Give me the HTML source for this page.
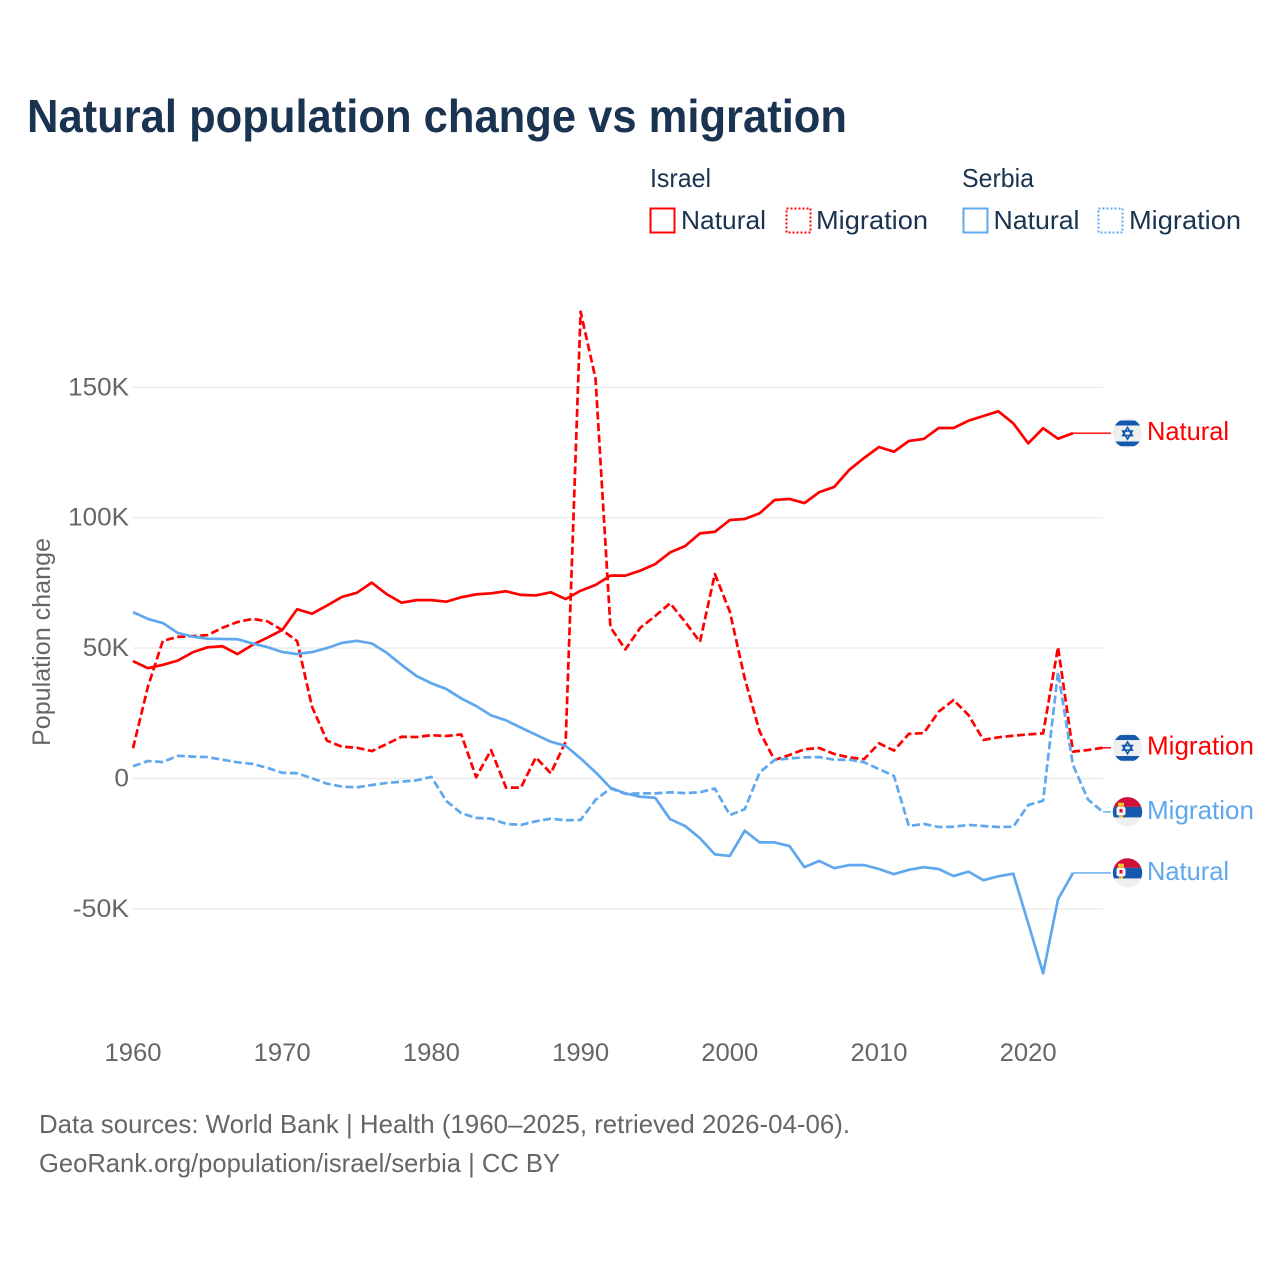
<!DOCTYPE html>
<html lang="en">
<head>
<meta charset="utf-8">
<title>Natural population change vs migration</title>
<style>
html,body{margin:0;padding:0;background:#fff;width:1280px;height:1280px;overflow:hidden}
svg{display:block}
text{font-family:"Liberation Sans",sans-serif}
</style>
</head>
<body>
<svg id="chart" xmlns="http://www.w3.org/2000/svg" width="1280" height="1280" viewBox="0 0 1280 1280">
  <defs>
    <clipPath id="flag-clip"><circle cx="0" cy="0" r="14.7"/></clipPath>
    <g id="flag-israel" clip-path="url(#flag-clip)">
      <rect x="-15" y="-15" width="30" height="30" fill="#efefef"/>
      <rect x="-13" y="-12.7" width="26" height="5" fill="#1558b0"/>
      <rect x="-13" y="8.3" width="26" height="4.7" fill="#1558b0"/>
      <polygon points="0,-5.8 4.8,2.4 -4.8,2.4" fill="none" stroke="#1558b0" stroke-width="1.6"/>
      <polygon points="0,6 4.8,-2.2 -4.8,-2.2" fill="none" stroke="#1558b0" stroke-width="1.6"/>
    </g>
    <g id="flag-serbia" clip-path="url(#flag-clip)">
      <rect x="-15" y="-15" width="30" height="30" fill="#efefef"/>
      <rect x="-15" y="-15" width="30" height="10" fill="#d20f3c"/>
      <rect x="-15" y="-5" width="30" height="10.5" fill="#1558b0"/>
      <rect x="-9.5" y="-9.2" width="6" height="4" fill="#f2c230"/>
      <rect x="-11" y="-5" width="9" height="8.5" rx="2" fill="#f6f6f6"/>
      <rect x="-8" y="-3" width="3" height="3.6" fill="#d20f3c"/>
      <rect x="-8.5" y="3.4" width="4" height="2.4" fill="#f2c230"/>
    </g>
  </defs>

  <text x="27" y="132" font-size="46" font-weight="700" fill="#1a3350" textLength="820" lengthAdjust="spacingAndGlyphs">Natural population change vs migration</text>

  <g>
    <text x="650" y="187" font-size="26" fill="#1a3350" textLength="61" lengthAdjust="spacingAndGlyphs">Israel</text>
    <text x="962" y="187" font-size="26" fill="#1a3350" textLength="72" lengthAdjust="spacingAndGlyphs">Serbia</text>

    <rect x="650.5" y="208.5" width="24" height="24" fill="none" stroke="#ff0000" stroke-width="2"/>
    <text x="681" y="229" font-size="26" fill="#1a3350" textLength="85" lengthAdjust="spacingAndGlyphs">Natural</text>
    <rect x="786.5" y="208.5" width="24" height="24" fill="none" stroke="#ff0000" stroke-width="2" stroke-dasharray="2 2"/>
    <text x="816" y="229" font-size="26" fill="#1a3350" textLength="112" lengthAdjust="spacingAndGlyphs">Migration</text>

    <rect x="963.5" y="208.5" width="24" height="24" fill="none" stroke="#5fa8ee" stroke-width="2"/>
    <text x="993.5" y="229" font-size="26" fill="#1a3350" textLength="86" lengthAdjust="spacingAndGlyphs">Natural</text>
    <rect x="1098.5" y="208.5" width="24" height="24" fill="none" stroke="#5fa8ee" stroke-width="2" stroke-dasharray="2 2"/>
    <text x="1129" y="229" font-size="26" fill="#1a3350" textLength="112" lengthAdjust="spacingAndGlyphs">Migration</text>
  </g>

  <text transform="translate(50,746) rotate(-90)" font-size="25" fill="#666666" textLength="208" lengthAdjust="spacingAndGlyphs">Population change</text>

  <g id="grid"></g>
  <g id="y-ticks"></g>
  <g id="x-ticks"></g>
  <g id="series"></g>
  <g id="end-labels"></g>

  <text x="39" y="1133" font-size="26" fill="#666666" textLength="811" lengthAdjust="spacingAndGlyphs">Data sources: World Bank | Health (1960–2025, retrieved 2026-04-06).</text>
  <text x="39" y="1172" font-size="26" fill="#666666" textLength="521" lengthAdjust="spacingAndGlyphs">GeoRank.org/population/israel/serbia | CC BY</text>
</svg>

<script>
const years = [1960,1961,1962,1963,1964,1965,1966,1967,1968,1969,1970,1971,1972,1973,1974,1975,1976,1977,1978,1979,1980,1981,1982,1983,1984,1985,1986,1987,1988,1989,1990,1991,1992,1993,1994,1995,1996,1997,1998,1999,2000,2001,2002,2003,2004,2005,2006,2007,2008,2009,2010,2011,2012,2013,2014,2015,2016,2017,2018,2019,2020,2021,2022,2023,2024,2025];

// Values in thousands of people
const israelNatural = [45.0,42.3,43.6,45.2,48.4,50.3,50.7,47.7,51.2,54.0,56.9,64.9,63.2,66.3,69.6,71.2,75.1,70.7,67.4,68.4,68.4,67.8,69.5,70.6,71.0,71.8,70.4,70.2,71.4,68.8,72.0,74.2,77.8,77.8,79.7,82.2,86.7,89.1,94.0,94.6,99.1,99.5,101.7,106.8,107.2,105.6,109.8,111.8,118.3,122.9,127.1,125.3,129.4,130.2,134.4,134.4,137.2,139.0,140.8,136.2,128.5,134.3,130.3,132.4];
const israelMigration = [11.6,35.2,52.8,54.3,54.6,55.0,57.8,60.0,61.2,60.3,56.9,52.7,27.5,14.5,12.2,11.8,10.5,13.2,16.0,15.9,16.6,16.3,16.9,0.5,10.9,-3.5,-3.5,8.1,2.0,14.1,179.0,153.4,58.0,49.5,57.8,62.3,67.2,60.1,52.4,78.4,64.0,38.4,18.0,7.1,9.0,11.2,11.7,9.4,8.1,7.4,13.5,10.7,17.1,17.4,25.6,30.1,24.3,14.8,15.8,16.4,16.9,17.3,50.4,10.3,10.9,11.8];
const serbiaNatural = [63.8,61.2,59.6,55.8,54.4,53.6,53.5,53.4,51.8,50.4,48.5,47.7,48.5,50.0,52.0,52.8,51.8,48.2,43.6,39.3,36.5,34.3,30.7,27.8,24.2,22.3,19.5,16.8,14.1,12.5,7.7,2.4,-3.5,-5.7,-7.0,-7.4,-15.6,-18.2,-22.9,-29.1,-29.7,-20.0,-24.5,-24.5,-25.9,-34.0,-31.6,-34.4,-33.2,-33.2,-34.7,-36.7,-35.0,-34.0,-34.7,-37.4,-35.7,-39.0,-37.5,-36.5,-55.5,-74.7,-46.3,-36.2];
const serbiaMigration = [4.7,6.7,6.3,8.7,8.4,8.2,7.2,6.2,5.6,4.1,2.2,2.0,0.1,-2.0,-3.1,-3.4,-2.5,-1.7,-1.2,-0.7,0.6,-8.6,-13.3,-15.1,-15.4,-17.4,-17.8,-16.4,-15.4,-16.0,-15.9,-8.2,-3.8,-5.9,-5.7,-5.7,-5.3,-5.6,-5.3,-3.8,-14.0,-11.8,2.3,7.1,7.7,8.1,8.2,7.2,7.2,6.2,3.6,1.0,-18.2,-17.4,-18.6,-18.5,-17.8,-18.2,-18.6,-18.5,-10.2,-8.5,40.8,5.2,-8.0,-12.8];

const yTickValues = [-50,0,50,100,150];
const yTickLabels = ['-50K','0','50K','100K','150K'];
const xTickValues = [1960,1970,1980,1990,2000,2010,2020];
const xTickLabels = ['1960','1970','1980','1990','2000','2010','2020'];

const NS = 'http://www.w3.org/2000/svg';
const RED = '#ff0000';
const BLUE = '#5fa8ee';

function xScale(year){ return 133 + (year - 1960) * 14.92; }
function yScale(v){ return 778.5 - v * 2.608; }
function labelWidth(s){
  let w = 0;
  for (const c of s) w += c === 'K' ? 17 : c === '-' ? 10 : 14.6;
  return w;
}
function make(tag, attrs, parent){
  const el = document.createElementNS(NS, tag);
  for (const k in attrs) el.setAttribute(k, attrs[k]);
  parent.appendChild(el);
  return el;
}

const grid = document.getElementById('grid');
const yTicks = document.getElementById('y-ticks');
yTickValues.forEach(function(v, i){
  const line = make('line', {x1:133, x2:1103, y1:yScale(v), y2:yScale(v), stroke:'#ececec', 'stroke-width':1.4}, grid);
  
  
  const label = yTickLabels[i];
  const t = make('text', {x:129, y:yScale(v) + 8, 'font-size':25, fill:'#666666', 'text-anchor':'end', textLength:labelWidth(label), lengthAdjust:'spacingAndGlyphs'}, yTicks);
  t.textContent = label;
  
  
});

const xTicks = document.getElementById('x-ticks');
xTickValues.forEach(function(yr, i){
  const t = make('text', {x:xScale(yr), y:1061, 'font-size':25, fill:'#666666', 'text-anchor':'middle', textLength:57, lengthAdjust:'spacingAndGlyphs'}, xTicks);
  t.textContent = xTickLabels[i];
  
  
});

const seriesGroup = document.getElementById('series');
const endLabels = document.getElementById('end-labels');

function drawSeries(values, color, dashed, flagId, labelText, labelWidthPx, name){
  const d = values.map(function(v, i){
    return (i ? 'L' : 'M') + xScale(years[i]).toFixed(2) + ' ' + yScale(v).toFixed(2);
  }).join(' ');
  const attrs = {d:d, fill:'none', stroke:color, 'stroke-width':2.7, 'stroke-linejoin':'round'};
  if (dashed) attrs['stroke-dasharray'] = '8 3.5';
  const path = make('path', attrs, seriesGroup);
  
  

  const lastIdx = values.length - 1;
  const endX = xScale(years[lastIdx]);
  const endY = yScale(values[lastIdx]);

  const conn = make('line', {x1:endX, x2:1111, y1:endY, y2:endY, stroke:color, 'stroke-width':1.4}, endLabels);
  
  

  const flag = make('use', {href:'#' + flagId, transform:'translate(1127.5,' + endY.toFixed(2) + ')'}, endLabels);
  
  

  const txt = make('text', {x:1147, y:endY + 7, 'font-size':26, fill:color, textLength:labelWidthPx, lengthAdjust:'spacingAndGlyphs'}, endLabels);
  txt.textContent = labelText;
  
  
}

drawSeries(israelNatural, RED, false, 'flag-israel', 'Natural', 82, 'israel-natural');
drawSeries(israelMigration, RED, true, 'flag-israel', 'Migration', 107, 'israel-migration');
drawSeries(serbiaNatural, BLUE, false, 'flag-serbia', 'Natural', 82, 'serbia-natural');
drawSeries(serbiaMigration, BLUE, true, 'flag-serbia', 'Migration', 107, 'serbia-migration');
</script>
</body>
</html>
